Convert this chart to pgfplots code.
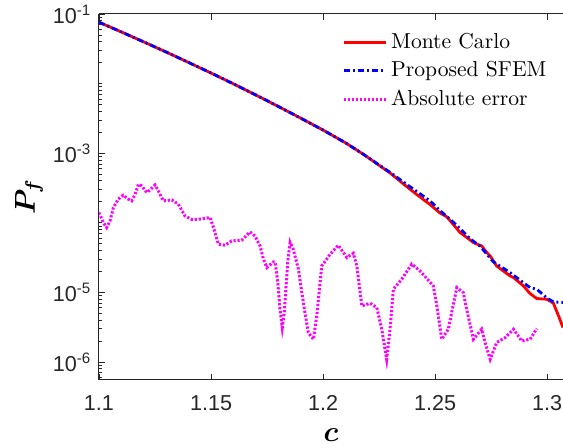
\documentclass[border=0pt]{standalone}
\usepackage{fontspec}
\usepackage{bm}
\usepackage{pgfplots}
\pgfplotsset{compat=1.18}
\newfontfamily\arialf{Liberation Sans}
\definecolor{axgray}{RGB}{38,38,38}
\definecolor{mcred}{RGB}{255,0,0}
\definecolor{sfblue}{RGB}{0,0,255}
\definecolor{errmag}{RGB}{255,0,255}

\pgfplotstableread{
x y
1.1000 0.0762
1.1100 0.0552
1.1200 0.0397
1.1300 0.0284
1.1400 0.0201
1.1500 0.0142
1.1600 0.00991
1.1700 0.00686
1.1800 0.00470
1.1900 0.00319
1.2000 0.00215
1.2100 0.00141
1.2180 9.64e-4
1.2299 5.20e-4
1.2374 3.30e-4
1.2418 2.55e-4
1.2478 1.82e-4
1.2522 1.38e-4
1.2552 1.22e-4
1.2582 9.40e-5
1.2612 7.22e-5
1.2640 6.20e-5
1.2671 5.19e-5
1.2708 4.64e-5
1.2731 3.73e-5
1.2746 3.33e-5
1.2775 2.39e-5
1.2835 1.72e-5
1.2850 1.63e-5
1.2894 1.24e-5
1.2924 9.60e-6
1.2954 8.15e-6
1.2999 7.96e-6
1.3028 7.00e-6
1.3051 4.60e-6
1.3071 3.12e-6
}\mcdata

\pgfplotstableread{
x y
1.1000 0.0762
1.1100 0.0552
1.1200 0.0397
1.1300 0.0284
1.1400 0.0201
1.1500 0.0142
1.1600 0.00991
1.1700 0.00686
1.1800 0.00470
1.1900 0.00319
1.2000 0.00215
1.2100 0.00141
1.2180 9.64e-4
1.2299 5.30e-4
1.2388 3.30e-4
1.2478 2.06e-4
1.2522 1.50e-4
1.2597 9.20e-5
1.2656 5.90e-5
1.2701 4.60e-5
1.2760 2.75e-5
1.2835 1.92e-5
1.2894 1.38e-5
1.2924 1.17e-5
1.2954 1.11e-5
1.2999 8.30e-6
1.3028 7.30e-6
1.3071 7.13e-6
}\sfemdata

\pgfplotstableread{
x y
1.1000 1.40e-4
1.1019 1.01e-4
1.1034 8.53e-5
1.1049 1.06e-4
1.1064 1.65e-4
1.1086 2.18e-4
1.1108 2.49e-4
1.1131 2.18e-4
1.1146 2.06e-4
1.1161 2.56e-4
1.1176 3.57e-4
1.1191 3.38e-4
1.1213 2.72e-4
1.1228 2.96e-4
1.1250 3.49e-4
1.1265 2.86e-4
1.1287 2.06e-4
1.1325 2.13e-4
1.1354 1.85e-4
1.1384 1.25e-4
1.1414 1.12e-4
1.1443 1.12e-4
1.1496 1.19e-4
1.1511 8.53e-5
1.1533 4.91e-5
1.1563 4.75e-5
1.1592 5.48e-5
1.1637 5.61e-5
1.1674 7.38e-5
1.1696 6.46e-5
1.1719 4.64e-5
1.1734 2.99e-5
1.1749 2.27e-5
1.1778 2.73e-5
1.1786 2.73e-5
1.1798 1.38e-5
1.1808 5.71e-6
1.1818 3.12e-6
1.1827 5.13e-6
1.1842 2.68e-5
1.1853 5.20e-5
1.1867 4.16e-5
1.1890 2.15e-5
1.1912 7.13e-6
1.1934 2.64e-6
1.1957 2.12e-6
1.1972 4.58e-6
1.1994 2.39e-5
1.2016 2.99e-5
1.2031 3.52e-5
1.2068 4.75e-5
1.2106 3.16e-5
1.2135 3.65e-5
1.2151 2.39e-5
1.2173 6.38e-6
1.2210 6.97e-6
1.2240 6.05e-6
1.2262 2.95e-6
1.2284 1.09e-6
1.2299 2.95e-6
1.2314 1.11e-5
1.2351 1.54e-5
1.2396 2.54e-5
1.2433 2.03e-5
1.2492 1.24e-5
1.2508 6.38e-6
1.2530 2.12e-6
1.2559 2.95e-6
1.2597 1.17e-5
1.2626 9.93e-6
1.2641 5.71e-6
1.2671 2.12e-6
1.2708 2.95e-6
1.2723 1.90e-6
1.2746 1.09e-6
1.2775 1.90e-6
1.2813 2.24e-6
1.2850 2.95e-6
1.2887 2.00e-6
1.2924 2.12e-6
1.2954 3.02e-6
}\errdata

\begin{document}
\fontsize{10.8}{13}\selectfont
\begin{tikzpicture}
\begin{axis}[
  name=ax,
  scale only axis,
  width=232pt, height=183pt,
  ymode=log,
  xmin=1.1, xmax=1.3071,
  ymin=5.5e-7, ymax=0.1,
  axis y line*=left,
  tick align=inside,
  xtick pos=both,
  xtick={1.1,1.15,1.2,1.25,1.3},
  xticklabels={1.1,1.15,1.2,1.25,1.3},
  ytick={1e-1,1e-3,1e-5,1e-6},
  yticklabels={10\textsuperscript{-1},10\textsuperscript{-3},10\textsuperscript{-5},10\textsuperscript{-6}},
  minor ytick={6e-7,7e-7,8e-7,9e-7,
    2e-6,3e-6,4e-6,5e-6,6e-6,7e-6,8e-6,9e-6,
    2e-5,3e-5,4e-5,5e-5,6e-5,7e-5,8e-5,9e-5,1e-4,
    2e-4,3e-4,4e-4,5e-4,6e-4,7e-4,8e-4,9e-4,
    2e-3,3e-3,4e-3,5e-3,6e-3,7e-3,8e-3,9e-3,1e-2,
    2e-2,3e-2,4e-2,5e-2,6e-2,7e-2,8e-2,9e-2},
  major tick length=2.8pt,
  minor tick length=1.6pt,
  tick style={axgray, line width=0.4pt},
  axis line style={axgray, line width=0.5pt},
  tick label style={font=\arialf\fontsize{10.8}{13}\selectfont, text=axgray},
  xticklabel style={yshift=-4pt},
  xlabel={$\bm{c}$},
  ylabel={$\bm{P_f}$},
  xlabel style={at={(rel axis cs:0.5,-0.1503)}, anchor=center, font=\fontsize{14}{17}\selectfont},
  ylabel style={at={(rel axis cs:-0.1509,0.5)}, anchor=center, font=\fontsize{14}{17}\selectfont},
  legend style={at={(rel axis cs:0.52,0.9648)}, anchor=north west,
    draw=none, fill=white, font=\fontsize{10.8}{13}\selectfont,
    inner sep=1pt, row sep=0.9pt},
  legend cell align=left,
  legend image code/.code={\draw[#1] (0cm,0cm) -- (0.73cm,0cm);},
]
\addplot[mcred, line width=1.4pt] table[x=x,y=y] {\mcdata};
\addlegendentry{Monte Carlo}
\addplot[sfblue, line width=1.4pt, dash pattern=on 3pt off 1.5pt on 1pt off 1.5pt] table[x=x,y=y] {\sfemdata};
\addlegendentry{Proposed SFEM}
\addplot[errmag, line width=1.5pt, dash pattern=on 1.1pt off 0.9pt] table[x=x,y=y] {\errdata};
\addlegendentry{Absolute error}
\end{axis}
\pgfresetboundingbox
\useasboundingbox ([xshift=-49.5pt,yshift=-34pt]ax.south west) rectangle ([yshift=7pt]ax.north east);
\end{tikzpicture}
\end{document}
